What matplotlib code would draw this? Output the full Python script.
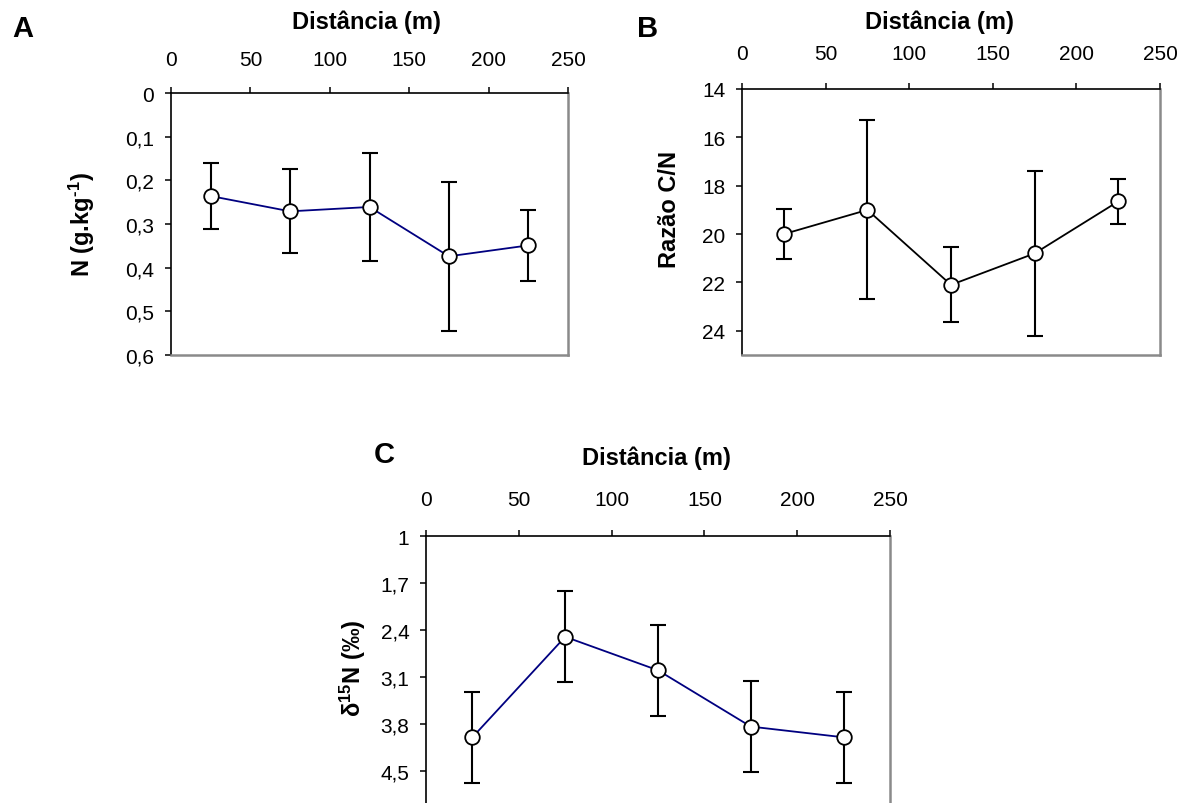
import matplotlib
matplotlib.use("Agg")
import matplotlib.pyplot as plt
from matplotlib.ticker import FixedLocator, FuncFormatter

plt.rcParams['font.family'] = ['Liberation Sans', 'DejaVu Sans']
plt.rcParams['mathtext.fontset'] = 'custom'
plt.rcParams['mathtext.rm'] = 'Liberation Sans'
plt.rcParams['mathtext.bf'] = 'Liberation Sans:bold'
plt.rcParams['mathtext.default'] = 'bf'

# ---- data ----
distance = [25, 75, 125, 175, 225]
x_ticks = [0, 50, 100, 150, 200, 250]

n_values = [0.236, 0.271, 0.261, 0.374, 0.349]
n_err = [0.076, 0.096, 0.124, 0.171, 0.081]
n_ticks = [0, 0.1, 0.2, 0.3, 0.4, 0.5, 0.6]

cn_values = [20.0, 19.0, 22.1, 20.8, 18.65]
cn_err = [1.05, 3.7, 1.55, 3.4, 0.93]
cn_ticks = [14, 16, 18, 20, 22, 24]

d15n_values = [4.0, 2.5, 3.0, 3.84, 4.0]
d15n_err = [0.68, 0.68, 0.68, 0.68, 0.68]
d15n_ticks = [1, 1.7, 2.4, 3.1, 3.8, 4.5]

W, H = 1185, 804
fig = plt.figure(figsize=(W / 100, H / 100), dpi=100)


def px_axes(left, right, top, bottom):
    return fig.add_axes([left / W, (H - bottom) / H, (right - left) / W, (bottom - top) / H])


def fmt(v, pos):
    s = f"{v:g}"
    return s.replace('.', ',')


def style(ax, yticks, ylim, xpad):
    ax.set_xlim(0, 250)
    ax.set_ylim(*ylim)
    ax.xaxis.set_major_locator(FixedLocator(x_ticks))
    ax.yaxis.set_major_locator(FixedLocator(yticks))
    ax.xaxis.set_major_formatter(FuncFormatter(fmt))
    ax.yaxis.set_major_formatter(FuncFormatter(fmt))
    ax.xaxis.tick_top()
    ax.tick_params(axis='x', which='both', top=True, bottom=False, direction='out',
                   length=4, width=1.1, labelsize=15, pad=xpad)
    ax.tick_params(axis='y', which='both', left=True, right=False, direction='out',
                   length=4, width=1.1, labelsize=15, pad=8)
    ax.spines['top'].set_color('black')
    ax.spines['left'].set_color('black')
    ax.spines['top'].set_linewidth(1.2)
    ax.spines['left'].set_linewidth(1.2)
    ax.spines['right'].set_color('#8a8a8a')
    ax.spines['bottom'].set_color('#8a8a8a')
    ax.spines['right'].set_linewidth(1.8)
    ax.spines['bottom'].set_linewidth(1.8)


def draw(ax, y, err, color):
    ax.errorbar(distance, y, yerr=err, fmt='none', ecolor='black', elinewidth=1.5,
                capsize=5.5, capthick=1.5, zorder=2)
    ax.plot(distance, y, '-o', color=color, lw=1.3, ms=10.5, mfc='white',
            mec='black', mew=1.3, zorder=3)


# Panel A
axA = px_axes(171, 568, 94, 356)
style(axA, n_ticks, (0.6, 0), 13.5)
draw(axA, n_values, n_err, '#000080')

# Panel B
axB = px_axes(742, 1160, 90, 356)
style(axB, cn_ticks, (25, 14), 15)
draw(axB, cn_values, cn_err, 'black')

# Panel C (its lower part runs past the bottom of the figure, as in the reference)
axC = px_axes(426, 890, 537.3, 818.7)
style(axC, d15n_ticks, (5.2, 1), 15.5)
draw(axC, d15n_values, d15n_err, '#000080')


def ftext(x, y, s, **kw):
    fig.text(x / W, 1 - y / H, s, **kw)


# panel letters
ftext(23, 29, 'A', fontsize=21, fontweight='bold', ha='center', va='center')
ftext(648, 29, 'B', fontsize=21, fontweight='bold', ha='center', va='center')
ftext(384, 455, 'C', fontsize=21, fontweight='bold', ha='center', va='center')

# x labels
ftext(366, 22, 'Distância (m)', fontsize=17, fontweight='bold', ha='center', va='center')
ftext(939, 22, 'Distância (m)', fontsize=17, fontweight='bold', ha='center', va='center')
ftext(656, 458, 'Distância (m)', fontsize=17, fontweight='bold', ha='center', va='center')

# y labels
ftext(82, 224, 'N (g.kg$^{\u2010}$$^{1}$)', fontsize=17, fontweight='bold', ha='center', va='center', rotation=90)
ftext(670, 209, 'Razão C/N', fontsize=17, fontweight='bold', ha='center', va='center', rotation=90)
ftext(353, 668, r'δ$^{15}$N (‰)', fontsize=17, fontweight='bold', ha='center', va='center', rotation=90)

fig.savefig('out.png', dpi=100, facecolor='white')
